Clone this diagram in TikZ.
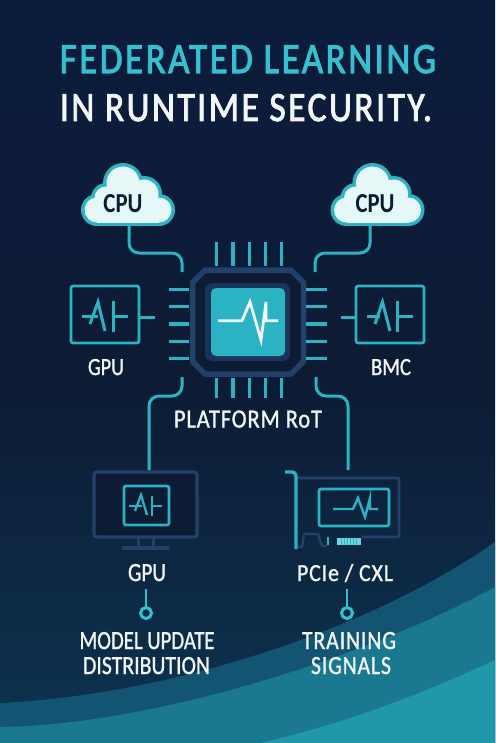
\documentclass[tikz,border=0pt]{standalone}
\usepackage{fontspec}
\usepackage{graphicx}
\setmainfont{Carlito}
\newfontfamily\wide[LetterSpace=4,FakeBold=1.3]{Carlito}
\newfontfamily\tight[FakeBold=1.3]{Carlito}
\newfontfamily\ttlf[LetterSpace=7,FakeBold=2.4]{Carlito}
\definecolor{bgtop}{HTML}{0B1C3D}
\definecolor{bgmid}{HTML}{0D1B34}
\definecolor{bgbot}{HTML}{0C3350}
\definecolor{cy}{HTML}{2BB3C4}
\definecolor{cyb}{HTML}{35BFCF}
\definecolor{navy}{HTML}{21416B}
\definecolor{navyd}{HTML}{1A3358}
\definecolor{cloudf}{HTML}{E6F7F8}
\definecolor{inkd}{HTML}{0E1A33}
\definecolor{waveA}{HTML}{125472}
\definecolor{waveB}{HTML}{1A7891}
\definecolor{waveC}{HTML}{2097AA}
\definecolor{wh}{HTML}{F2F6F8}
\newcommand{\fitb}[3]{\resizebox{#1pt}{#2pt}{#3}}
\tikzset{
  x=1pt,y=-1pt,
  conn/.style={draw=cy,line width=3pt,rounded corners=10pt},
  pin/.style={draw=cy,line width=3.4pt},
  iconbox/.style={draw=cy,line width=2.6pt,rounded corners=2pt,inner sep=0pt,fill=none},
  glyph/.style={draw=cy,line width=3pt,line join=miter},
  glyphw/.style={draw=wh,line width=2.8pt,line join=miter},
  lab/.style={text=wh,anchor=base,inner sep=0pt},
  ttl/.style={anchor=base,inner sep=0pt},
  frame/.style={draw=navy,line width=3.4pt,rounded corners=3pt,inner sep=0pt},
  dot/.style={circle,draw=cyb,line width=3pt,inner sep=0pt,minimum size=11pt},
}
\newcommand{\mycloud}[1]{%
  \begin{scope}[shift={(#1,0)}]
  \fill[cy] (97,210) circle[radius=16];
  \fill[cy] (106,198) circle[radius=15];
  \fill[cy] (123,183) circle[radius=20];
  \fill[cy] (144,194) circle[radius=18];
  \fill[cy] (159,210) circle[radius=16];
  \fill[cy] (97,205) rectangle (159,226);
  \fill[cloudf] (97,210) circle[radius=12.5];
  \fill[cloudf] (106,198) circle[radius=11.5];
  \fill[cloudf] (123,183) circle[radius=16.5];
  \fill[cloudf] (144,194) circle[radius=14.5];
  \fill[cloudf] (159,210) circle[radius=12.5];
  \fill[cloudf] (97,205) rectangle (159,222.5);
  \fill[cloudf] (110,185) rectangle (150,210);
  \end{scope}}
\begin{document}
\begin{tikzpicture}
\useasboundingbox (0,0) rectangle (495,743);
\shade[top color=bgtop,bottom color=bgbot,middle color=bgmid] (0,0) rectangle (495,743);
% waves
\fill[waveA] (0,703) .. controls (170,695) and (370,630) .. (495,542) -- (495,743) -- (0,743) -- cycle;
\fill[waveB] (0,727) .. controls (150,725) and (360,660) .. (495,587) -- (495,743) -- (0,743) -- cycle;
\fill[waveC] (260,743) .. controls (340,725) and (420,695) .. (495,660) -- (495,743) -- cycle;
% title
\node[ttl,text=cyb] (t1) at (248,73) {\fitb{376}{28}{\ttlf FEDERATED LEARNING}};
\node[ttl,text=wh] (t2) at (246,121) {\fitb{372}{27}{\ttlf IN RUNTIME SECURITY.}};
% clouds
\mycloud{0}
\mycloud{249.5}
\node[anchor=base,inner sep=0pt,text=inkd] (cpuL) at (123,212) {\fitb{39}{18}{\bfseries CPU}};
\node[anchor=base,inner sep=0pt,text=inkd] (cpuR) at (375,212) {\fitb{39}{18}{\bfseries CPU}};
\coordinate (cpuLb) at (129,226);
\coordinate (cpuRb) at (370,226);
% chip
\node[minimum width=111pt,minimum height=104pt,inner sep=0pt] (chip) at (248,322) {};
\draw[navy,line width=5.5pt,line join=round,fill=bgmid] (205,270) -- (291,270) -- (303.5,282.5) -- (303.5,361.5) -- (291,374) -- (205,374) -- (192.5,361.5) -- (192.5,282.5) -- cycle;
\node[fill=navyd,rounded corners=7pt,minimum width=85pt,minimum height=78pt,inner sep=0pt] (core) at (247.5,322) {};
\node[fill=cy,rounded corners=5pt,minimum width=74pt,minimum height=68pt,inner sep=0pt] (coreIn) at (248,322) {};
\draw[glyphw] (218,320.7) -- (242,320.7) -- (250,302) -- (261,340) -- (266,302) -- (266,320.7) -- (278,320.7);
% pins
\foreach \y in {289.3,306.7,324,341.3,358.7}{
  \draw[pin] (169,\y) -- (189,\y);
  \draw[pin] (306,\y) -- (327,\y);
}
\foreach \x in {216.7,233,249.3,265.7,281.7}{
  \draw[pin] (\x,242) -- (\x,266);
  \draw[pin] (\x,378) -- (\x,398);
}
% connectors to chip
\coordinate (pTL) at (182,272);
\coordinate (pTR) at (315,272);
\coordinate (pBL) at (182,377);
\coordinate (pBR) at (316,377);
\draw[conn] (cpuLb) -- (129,253) -- (182,253) -- (pTL);
\draw[conn] (cpuRb) -- (370,253) -- (315,253) -- (pTR);
% side boxes
\node[iconbox,minimum width=68pt,minimum height=57pt] (gpuBox) at (105,314.5) {};
\node[iconbox,minimum width=68pt,minimum height=57pt] (bmcBox) at (390,314.5) {};
\coordinate (gpuStub) at (155,317);
\coordinate (bmcStub) at (341,317);
\draw[conn] (gpuBox.east |- gpuStub) -- (gpuStub);
\draw[conn] (bmcBox.west |- bmcStub) -- (bmcStub);
\draw[glyph] (82,316) -- (98,316);
\draw[glyph] (90,324) -- (98,302) -- (105,331);
\draw[glyph] (113,301) -- (113,332);
\draw[glyph] (113,316) -- (128,316);
\draw[glyph] (367,316) -- (380,316);
\draw[glyph] (375,324) -- (382.5,302) -- (390,331);
\draw[glyph] (397.5,301) -- (397.5,332);
\draw[glyph] (397.5,316) -- (413,316);
\node[lab] (gpuLab) at (106,375) {\fitb{36}{16}{\tight GPU}};
\node[lab] (bmcLab) at (391,375) {\fitb{40}{16}{\tight BMC}};
\node[lab] (rot) at (248,427.5) {\fitb{148}{17}{\wide PLATFORM RoT}};
% monitor
\node[frame,fill=bgmid,minimum width=103pt,minimum height=65pt] (mon) at (145.5,504.5) {};
\coordinate (monTop) at (149,470);
\draw[conn] (pBL) -- (182,396) -- (149,396) -- (monTop);
\draw[navy,line width=3pt] (138,537) -- (138,548) (153,537) -- (153,548);
\draw[navy,line width=3.2pt,line cap=round] (123,548) -- (168,548);
\node[iconbox,minimum width=45pt,minimum height=39pt] (monIcon) at (146.5,505.5) {};
\draw[glyph,line width=2.3pt] (129,506) -- (142,506);
\draw[glyph,line width=2.3pt] (135,511) -- (141,495) -- (147,515);
\draw[glyph,line width=2.3pt] (152,496) -- (152,516);
\draw[glyph,line width=2.3pt] (152,506) -- (162,506);
% card
\coordinate (cardTop) at (348,470);
\draw[conn] (pBR) -- (316,396) -- (348,396) -- (cardTop);
\draw[navy,line width=2.8pt,rounded corners=2pt] (297,478) -- (399,478) -- (399,537) -- (362,537);
\draw[navy,line width=2.4pt,line join=round] (298,547) -- (302,547) -- (304,534) -- (318,534) -- (322,546) -- (327,546);
\draw[cy,line width=3.4pt,rounded corners=4pt] (285,472) -- (296,472) -- (296,549);
\fill[cy] (326.5,537) rectangle (329,545);
\node[fill=cyb!70!white,minimum width=24pt,minimum height=7pt,inner sep=0pt] (fingers) at (349,541.5) {};
\foreach \x in {341,344,347,350,353,356}{\draw[cy,line width=.5pt] (\x,538) -- (\x,545);}
\node[iconbox,minimum width=70pt,minimum height=37pt] (cardScr) at (354,507.5) {};
\draw[glyph,line width=2.4pt] (333,509) -- (353,509) -- (358,498) -- (365,517) -- (370,498) -- (370,509) -- (378,509);
% labels
\node[lab] (gpu2) at (147,581) {\fitb{38}{17}{\tight GPU}};
\node[lab] (pcie) at (345,581) {\fitb{96}{17}{\wide PCIe / CXL}};
\node[dot] (dotL) at (146,613) {};
\node[dot] (dotR) at (347,613) {};
\coordinate (dotLt) at (146,589);
\coordinate (dotRt) at (347,589);
\draw[draw=cyb,line width=2.8pt] (dotLt) -- (dotL);
\draw[draw=cyb,line width=2.8pt] (dotRt) -- (dotR);
\node[lab] (m1) at (147,649) {\fitb{135}{17}{\tight MODEL UPDATE}};
\node[lab] (m2) at (146.5,674) {\fitb{127}{17}{\tight DISTRIBUTION}};
\node[lab] (s1) at (349,649) {\fitb{94}{17}{\wide TRAINING}};
\node[lab] (s2) at (351,674) {\fitb{80}{17}{\wide SIGNALS}};
\end{tikzpicture}
\end{document}
